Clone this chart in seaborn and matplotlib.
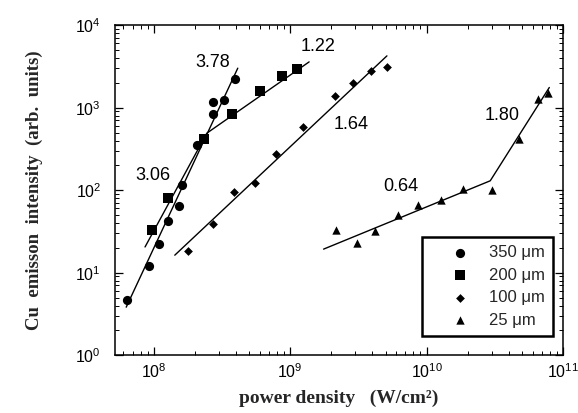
import numpy as np
import pandas as pd
import matplotlib
matplotlib.use("Agg")
import matplotlib.pyplot as plt
import seaborn as sns
from matplotlib.ticker import LogLocator, NullFormatter

# ---- data ----
x350 = [6.34e7, 9.19e7, 1.094e8, 1.282e8, 1.534e8, 1.604e8, 2.085e8, 2.74e8, 2.74e8, 3.28e8, 3.91e8]
y350 = [4.64, 12.0, 22.2, 42.5, 64.0, 115, 351, 834, 1166, 1233, 2247]

x200 = [9.78e7, 1.28e8, 2.32e8, 3.72e8, 5.97e8, 8.69e8, 1.13e9]
y200 = [32.7, 79.3, 423, 850, 1600, 2409, 2904]

x100 = [1.77e8, 2.70e8, 3.85e8, 5.51e8, 7.85e8, 1.25e9, 2.13e9, 2.89e9, 3.94e9, 5.16e9]
y100 = [18.2, 38.7, 94.6, 121, 273, 589, 1378, 1965, 2808, 3124]

x25 = [2.16e9, 3.08e9, 4.18e9, 6.20e9, 8.69e9, 1.28e10, 1.84e10, 3.01e10, 4.79e10, 6.61e10, 7.82e10]
y25 = [32.7, 22.6, 31.8, 49.8, 65.8, 75.6, 102, 100, 412, 1257, 1486]

# fit lines (as drawn in the figure)
fit350_x = [6.28e7, 4.13e8]
fit350_y = [3.82, 3013]
fit200_x = [8.63e7, 2.45e8, 1.377e9]
fit200_y = [20.5, 491, 3590]
fit100_x = [1.426e8, 5.12e9]
fit100_y = [16.3, 4246]
fit25_x = [1.758e9, 2.93e10, 7.94e10]
fit25_y = [19.3, 130, 1757]

slope_labels = ["3.78", "1.22", "1.64", "3.06", "0.64", "1.80"]
slope_x = [2.70e8, 1.589e9, 2.79e9, 9.78e7, 6.49e9, 3.61e10]
slope_y = [3491, 5458, 626, 152, 112, 811]

series_labels = ["350 \u03bcm", "200 \u03bcm", "100 \u03bcm", "25 \u03bcm"]

# ---- style ----
sns.set_style("ticks")
plt.rcParams["font.family"] = ["Liberation Sans", "DejaVu Sans"]
plt.rcParams["mathtext.fontset"] = "custom"
plt.rcParams["mathtext.rm"] = "Liberation Sans"
plt.rcParams["mathtext.it"] = "Liberation Sans:italic"
plt.rcParams["mathtext.bf"] = "Liberation Sans:bold"

fig = plt.figure(figsize=(5.78, 4.13), dpi=100)
ax = fig.add_axes([0.199, 0.140, 0.775, 0.799])

# fit lines
for fx, fy in [(fit350_x, fit350_y), (fit200_x, fit200_y), (fit100_x, fit100_y), (fit25_x, fit25_y)]:
    sns.lineplot(x=fx, y=fy, ax=ax, color="black", linewidth=1.0, sort=False, estimator=None)

# markers
specs = [(x350, y350, "o", 44), (x200, y200, "s", 44), (x100, y100, "D", 20), (x25, y25, "^", 36)]
for (xs, ys, m, s), lab in zip(specs, series_labels):
    sns.scatterplot(x=xs, y=ys, ax=ax, marker=m, s=s, color="black",
                    edgecolor="black", linewidth=0, label=lab, zorder=3)

ax.set_xscale("log")
ax.set_yscale("log")
ax.set_xlim(5.2e7, 1e11)
ax.set_ylim(1, 1e4)

for t, tx, ty in zip(slope_labels, slope_x, slope_y):
    ax.text(tx, ty, t, fontsize=13, ha="center", va="center", color="black")

ax.xaxis.set_major_locator(LogLocator(base=10))
ax.yaxis.set_major_locator(LogLocator(base=10))
ax.xaxis.set_minor_locator(LogLocator(base=10, subs=np.arange(2, 10)))
ax.yaxis.set_minor_locator(LogLocator(base=10, subs=np.arange(2, 10)))
ax.xaxis.set_minor_formatter(NullFormatter())
ax.yaxis.set_minor_formatter(NullFormatter())

ax.tick_params(which="both", direction="in", top=True, right=True, colors="black")
ax.tick_params(which="major", length=6, width=0.9, labelsize=11.5)
ax.tick_params(which="minor", length=3, width=0.7)
ax.tick_params(axis="y", which="major", pad=10)
ax.tick_params(axis="x", which="major", pad=5)
for sp in ax.spines.values():
    sp.set_linewidth(1.1)
    sp.set_color("black")

ax.set_xlabel("power density   (W/cm\u00b2)", fontsize=14, fontweight="bold",
              family=["Liberation Serif", "DejaVu Serif"])
ax.set_ylabel("Cu  emisson  intensity  (arb.  units)", fontsize=13.5, fontweight="bold",
              family=["Liberation Serif", "DejaVu Serif"])
ax.xaxis.set_label_coords(0.5, -0.105)
ax.yaxis.set_label_coords(-0.16, 0.5)

leg = ax.legend(loc="lower right", bbox_to_anchor=(0.978, 0.058), borderaxespad=0,
                frameon=True, fancybox=False, edgecolor="black", fontsize=12,
                handlelength=3.5, handletextpad=0.0, labelspacing=0.45, borderpad=0.5)
leg.get_frame().set_linewidth(1.8)
leg.get_frame().set_alpha(1)

fig.savefig("out.png", dpi=100)
